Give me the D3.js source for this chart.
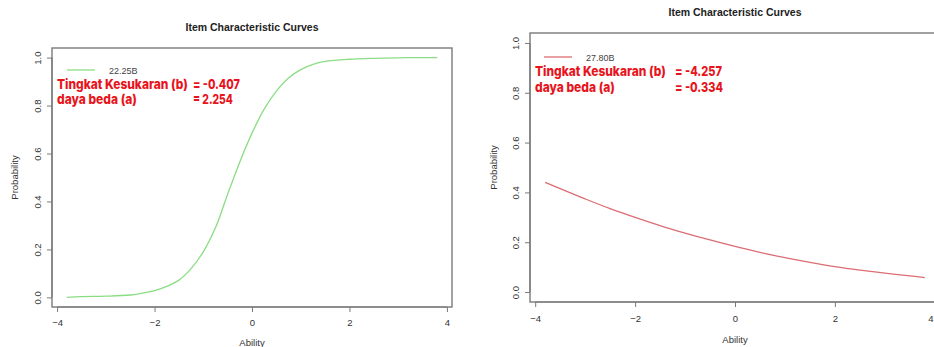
<!DOCTYPE html>
<html>
<head>
<meta charset="utf-8">
<script src="https://cdn.jsdelivr.net/npm/d3@7"></script>
<style>
  html, body { margin: 0; padding: 0; background: #fff; }
  svg { display: block; }
  text { font-family: "Liberation Sans", Arial, sans-serif; }
</style>
</head>
<body>
<svg id="chart" width="934" height="347"></svg>
<script>
// Item 22.25B: ability grid and probability of a correct response
const item1Ability = [-3.8, -3.5, -3.0, -2.5, -2.25, -2.0, -1.75, -1.5, -1.25, -1.0, -0.75, -0.5, -0.25, 0.0, 0.25, 0.5, 0.75, 1.0, 1.25, 1.5, 2.0, 2.5, 3.0, 3.5, 3.8];
const item1Prob = [0.000, 0.003, 0.005, 0.010, 0.018, 0.028, 0.046, 0.072, 0.120, 0.190, 0.290, 0.430, 0.565, 0.685, 0.785, 0.860, 0.915, 0.950, 0.972, 0.984, 0.993, 0.997, 0.999, 1.000, 1.000];

// Item 27.80B: ability grid and probability of a correct response
const item2Ability = [-3.8, -3.5, -3.0, -2.5, -2.0, -1.5, -1.0, -0.5, 0.0, 0.5, 1.0, 1.5, 2.0, 2.5, 3.0, 3.5, 3.8];
const item2Prob = [0.440, 0.415, 0.374, 0.335, 0.300, 0.267, 0.237, 0.209, 0.183, 0.159, 0.138, 0.119, 0.102, 0.088, 0.076, 0.065, 0.058];

const xTicks = [-4, -2, 0, 2, 4];
const yTicks = [0.0, 0.2, 0.4, 0.6, 0.8, 1.0];

const panels = [
  {
    name: "22.25B", ability: item1Ability, prob: item1Prob, color: "#8bdd85",
    box: { left: 52, right: 452, top: 48, bottom: 307 },
    titleY: 31, tickLabelY: 326, xTitleY: 346, yLabelX: 41, yTitleX: 18,
    legendY: 70, legendX: 67,
    b: "-0.407", a: "2.254",
    textX: 57, line1Y: 89, line2Y: 104, eqX: 193
  },
  {
    name: "27.80B", ability: item2Ability, prob: item2Prob, color: "#db6d74",
    box: { left: 530, right: 940, top: 33, bottom: 302 },
    titleY: 16, tickLabelY: 322, xTitleY: 343, yLabelX: 519, yTitleX: 497,
    legendY: 57, legendX: 544,
    b: "-4.257", a: "-0.334",
    textX: 535, line1Y: 76, line2Y: 92, eqX: 675
  }
];

const svg = d3.select("#chart");
const pageWidth = +svg.attr("width");
const axisColor = "#7a7a7a";

panels.forEach(p => {
  const g = svg.append("g");
  const bx = p.box;
  const x = d3.scaleLinear().domain([-4.104, 4.104]).range([bx.left, bx.right]);
  const y = d3.scaleLinear().domain([-0.04, 1.04]).range([bx.bottom, bx.top]);
  const midX = (bx.left + bx.right) / 2;

  // plot frame
  g.append("rect")
    .attr("x", bx.left).attr("y", bx.top)
    .attr("width", bx.right - bx.left).attr("height", bx.bottom - bx.top)
    .attr("fill", "none").attr("stroke", axisColor).attr("stroke-width", 1.4);

  // x axis
  const xAxis = g.append("g")
    .attr("transform", `translate(0,${bx.bottom})`)
    .call(d3.axisBottom(x).tickValues(xTicks).tickSize(5).tickFormat(d3.format("d")));
  xAxis.select(".domain").attr("stroke", axisColor).attr("stroke-width", 1.2)
    .attr("d", `M${x(-4)},0H${x(4)}`);
  xAxis.selectAll(".tick line").attr("stroke", axisColor);
  xAxis.selectAll(".tick text")
    .attr("dy", null)
    .attr("y", p.tickLabelY - bx.bottom)
    .attr("fill", "#333").attr("font-size", 9.5)
    .attr("font-family", "Liberation Sans, Arial, sans-serif")
    .each(function (d) {
      // keep a label that would run past the page edge inside it
      if (x(d) + 3 > pageWidth) {
        d3.select(this).attr("text-anchor", "end").attr("x", pageWidth - 1 - x(d));
      }
    });

  // y axis
  const yAxis = g.append("g")
    .attr("transform", `translate(${bx.left},0)`)
    .call(d3.axisLeft(y).tickValues(yTicks).tickSize(5).tickFormat(d3.format(".1f")));
  yAxis.select(".domain").attr("stroke", axisColor).attr("stroke-width", 1.2)
    .attr("d", `M0,${y(0)}V${y(1)}`);
  yAxis.selectAll(".tick line").attr("stroke", axisColor);
  yAxis.selectAll(".tick text")
    .attr("dy", null)
    .attr("transform", `translate(${p.yLabelX - bx.left},0) rotate(-90)`)
    .attr("x", 0).attr("y", 0)
    .attr("text-anchor", "middle")
    .attr("fill", "#333").attr("font-size", 9.5)
    .attr("font-family", "Liberation Sans, Arial, sans-serif");

  // titles
  g.append("text")
    .attr("x", midX).attr("y", p.titleY)
    .attr("text-anchor", "middle").attr("font-weight", "bold")
    .attr("font-size", 10.5).attr("fill", "#222")
    .text("Item Characteristic Curves");
  g.append("text")
    .attr("x", midX).attr("y", p.xTitleY)
    .attr("text-anchor", "middle").attr("font-size", 9.5).attr("fill", "#333")
    .text("Ability");
  g.append("text")
    .attr("transform", `translate(${p.yTitleX},${(bx.top + bx.bottom) / 2}) rotate(-90)`)
    .attr("text-anchor", "middle").attr("font-size", 9.5).attr("fill", "#333")
    .text("Probability");

  // item characteristic curve
  const line = d3.line()
    .x((d, i) => x(p.ability[i]))
    .y(d => y(d))
    .curve(d3.curveCatmullRom.alpha(0.5));
  g.append("path")
    .datum(p.prob)
    .attr("d", line)
    .attr("fill", "none")
    .attr("stroke", p.color)
    .attr("stroke-width", 1.3);

  // legend
  g.append("line")
    .attr("x1", p.legendX).attr("x2", p.legendX + 28)
    .attr("y1", p.legendY).attr("y2", p.legendY)
    .attr("stroke", p.color).attr("stroke-width", 1.3);
  g.append("text")
    .attr("x", p.legendX + 42).attr("y", p.legendY + 3.5)
    .attr("font-size", 9).attr("fill", "#444")
    .text(p.name);

  // item parameter notes, narrowed horizontally to a fixed width
  const red = "#e8141c";
  const note = (tx, ty, str, w) => {
    const t = g.append("text")
      .attr("x", 0).attr("y", 0)
      .style("font-family", "Inter, 'Noto Sans', sans-serif")
      .style("font-weight", 800)
      .attr("font-size", 13.5)
      .attr("fill", red)
      .text(str);
    const natural = t.node().getComputedTextLength();
    const sx = Math.min(1, w / natural);
    t.attr("transform", `translate(${tx},${ty}) scale(${sx},1)`);
  };
  note(p.textX, p.line1Y, "Tingkat Kesukaran (b)", 131);
  note(p.textX, p.line2Y, "daya beda (a)", 80);
  note(p.eqX, p.line1Y, "= " + p.b, 47);
  note(p.eqX, p.line2Y, "= " + p.a, p.a.startsWith("-") ? 48 : 40);
});
</script>
</body>
</html>
